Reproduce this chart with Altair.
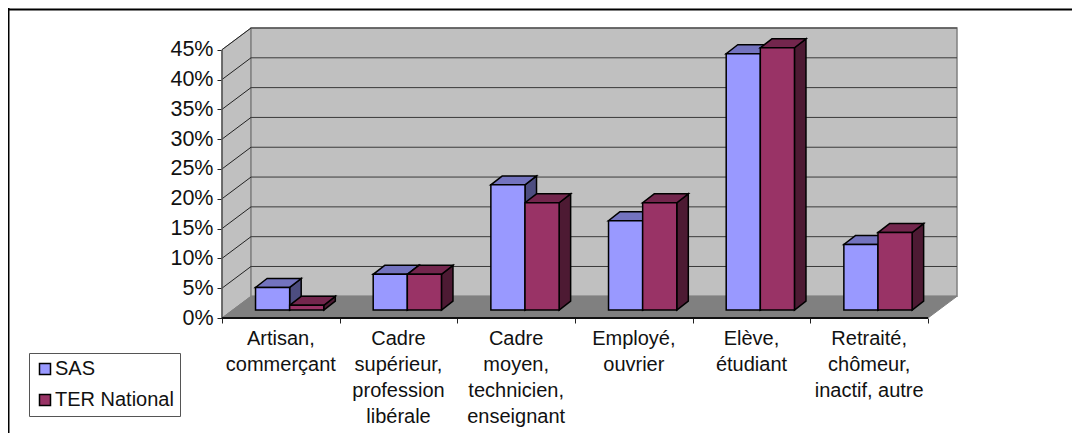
import altair as alt
import pandas as pd

categories = ["Artisan,\ncommerçant", "Cadre\nsupérieur,\nprofession\nlibérale", "Cadre\nmoyen,\ntechnicien,\nenseignant",
              "Employé,\nouvrier", "Elève,\nétudiant", "Retraité,\nchômeur,\ninactif, autre"]
sas = [3.8, 6, 21, 15, 43, 11]
ter = [0.8, 6, 18, 18, 44, 13]
ticks = [0, 5, 10, 15, 20, 25, 30, 35, 40, 45]
series_names = ["SAS", "TER National"]
front_colors = ["#9999ff", "#993366"]
top_colors = ["#7373bf", "#73264d"]
side_colors = ["#4d4d80", "#4d1a33"]

FONT = "Liberation Sans"
WALL_X, WALL_Y = 0.2465, 3.64      # wall depth in axis units
BAR_START, BAR_W = 0.285, 0.29     # bar position within a category
BASE = 1.33                        # front of the bars above the axis floor
DEPTH_X, DEPTH_Y = 0.098, 1.5      # bar depth
XMAX, YMAX = 6 + WALL_X, 45 + WALL_Y

xs = alt.Scale(domain=[0, XMAX], nice=False, zero=False)
ys = alt.Scale(domain=[0, YMAX], nice=False, zero=False)
NX = alt.X("x:Q", scale=xs, title=None,
           axis=alt.Axis(values=list(range(7)), labels=False, domain=False, grid=False,
                         ticks=True, tickSize=5, tickColor="#222222", tickWidth=1))
NY = alt.Y("y:Q", scale=ys, title=None,
           axis=alt.Axis(values=ticks, domain=False, grid=False, tickSize=5,
                         tickColor="#222222", tickWidth=1, labelExpr="datum.value + '%'",
                         labelFont=FONT, labelFontSize=21.5, labelColor="#111111", labelPadding=4))


def vert_area(rows, fill, stroke, width=1.0):
    """Area between two vertical edges; rows = (group, x, y, y2)."""
    df = pd.DataFrame(rows, columns=["g", "x", "y", "y2"])
    return alt.Chart(df).mark_area(orient="vertical", fill=fill, stroke=stroke, strokeWidth=width, opacity=1).encode(
        x=NX, y=NY, y2="y2:Q", detail="g:N")


def horiz_area(rows, fill, stroke, width=1.0):
    """Area between two horizontal edges; rows = (group, y, x, x2)."""
    df = pd.DataFrame(rows, columns=["g", "y", "x", "x2"])
    return alt.Chart(df).mark_area(orient="horizontal", fill=fill, stroke=stroke, strokeWidth=width, opacity=1).encode(
        x=NX, x2="x2:Q", y=NY, detail="g:N")


def seg(rows, color, width):
    df = pd.DataFrame(rows, columns=["x", "x2", "y", "y2"])
    return alt.Chart(df).mark_rule(color=color, strokeWidth=width).encode(x=NX, x2="x2:Q", y=NY, y2="y2:Q")


left_wall = vert_area([("w", 0, 0, 45), ("w", WALL_X, WALL_Y, YMAX)], "#c0c0c0", "#808080", 1)
back_wall = vert_area([("w", WALL_X, WALL_Y, YMAX), ("w", XMAX, WALL_Y, YMAX)], "#c0c0c0", "#808080", 1.5)
floor = horiz_area([("f", 0, 0, 6), ("f", WALL_Y, WALL_X, XMAX)], "#808080", "#808080")
grid_back = seg([(WALL_X, XMAX, v + WALL_Y, v + WALL_Y) for v in ticks[1:]], "#3a3a3a", 1)
grid_side = seg([(0, WALL_X, v, v + WALL_Y) for v in ticks[1:]], "#222222", 1)
left_edge = seg([(0, 0, 0, 45)], "#555555", 1.5)
base_line = seg([(0, 6, 0, 0)], "#111111", 2)

faces = []
fronts = []
for s, vals in enumerate([sas, ter]):
    side_rows, top_rows = [], []
    for i, v in enumerate(vals):
        x1 = i + BAR_START + s * BAR_W
        x2 = x1 + BAR_W
        side_rows += [(i, x2, BASE, BASE + v), (i, x2 + DEPTH_X, BASE + DEPTH_Y, BASE + v + DEPTH_Y)]
        top_rows += [(i, BASE + v, x1, x2), (i, BASE + v + DEPTH_Y, x1 + DEPTH_X, x2 + DEPTH_X)]
        fronts.append(dict(series=series_names[s], x=x1, x2=x2, y=BASE, y2=BASE + v))
    faces.append(vert_area(side_rows, side_colors[s], "#000000", 1.5))
    faces.append(horiz_area(top_rows, top_colors[s], "#000000", 1.5))

front = alt.Chart(pd.DataFrame(fronts)).mark_bar(stroke="#000000", strokeWidth=1.5, opacity=1).encode(
    x=NX, x2="x2:Q", y=NY, y2="y2:Q",
    color=alt.Color("series:N", scale=alt.Scale(domain=series_names, range=front_colors), title=None,
                    legend=alt.Legend(orient="none", legendX=-193, legendY=325, fillColor="#ffffff",
                                      strokeColor="#555555", padding=6, rowPadding=11, symbolType="square",
                                      symbolSize=121, symbolStrokeColor="#000000", symbolStrokeWidth=1.5,
                                      symbolOpacity=1, labelFont=FONT, labelFontSize=20, labelColor="#111111",
                                      labelOffset=0, labelLimit=200)))

labels = alt.Chart(pd.DataFrame({"c": categories, "x": [i + 0.5 for i in range(6)]})).transform_calculate(
    t="split(datum.c, '\\n')"
).mark_text(font=FONT, fontSize=20, align="center", baseline="alphabetic", lineHeight=26, color="#111111").encode(
    x=NX, y=alt.value(317), text="t:N")

frame_top = alt.Chart(pd.DataFrame({"a": [0]})).mark_rule(color="#000000", strokeWidth=2).encode(
    x=alt.value(-214), x2=alt.value(850), y=alt.value(-18.5))
frame_left = alt.Chart(pd.DataFrame({"a": [0]})).mark_rule(color="#000000", strokeWidth=2).encode(
    x=alt.value(-213.5), y=alt.value(-20), y2=alt.value(405))

chart = alt.layer(left_wall, back_wall, floor, grid_back, grid_side, left_edge, base_line,
                  *faces, front, labels, frame_top, frame_left).properties(
    width=735, height=290,
    autosize=alt.AutoSizeParams(type="none"),
    padding={"left": 214, "top": 20, "right": 115, "bottom": 115},
    background="#ffffff",
).configure_view(stroke=None)

chart.save("out.html", embed_options={"renderer": "svg", "actions": False})
